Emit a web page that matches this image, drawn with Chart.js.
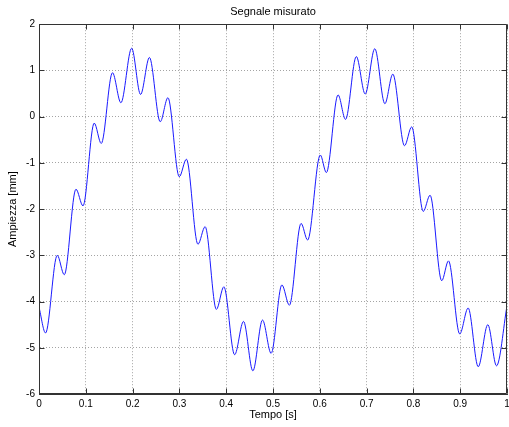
<!DOCTYPE html>
<html>
<head>
<meta charset="utf-8">
<title>Segnale misurato</title>
<script src="https://cdn.jsdelivr.net/npm/chart.js@4.4.1/dist/chart.umd.min.js"></script>
<style>
  html, body { margin: 0; padding: 0; background: #fff; }
  canvas { display: block; }
</style>
</head>
<body>
<canvas id="chart" width="509" height="427"></canvas>
<script>
// Punti (massimi e minimi locali del segnale)
const tempo = [
  0.000, 0.014, 0.039, 0.054, 0.079, 0.094, 0.118, 0.133, 0.157, 0.175,
  0.198, 0.217, 0.236, 0.259, 0.2755, 0.2997, 0.315, 0.3396, 0.355, 0.379,
  0.395, 0.418, 0.437, 0.457, 0.4776, 0.496, 0.519, 0.535, 0.560, 0.574,
  0.601, 0.614, 0.639, 0.655, 0.678, 0.697, 0.7175, 0.739, 0.756, 0.781,
  0.7964, 0.821, 0.8356, 0.8605, 0.875, 0.899, 0.917, 0.9385, 0.959, 0.9776,
  1.000
];
const ampiezza = [
  -4.12, -4.68, -3.00, -3.42, -1.57, -1.93, -0.14, -0.58, 0.95, 0.30,
  1.48, 0.48, 1.28, -0.11, 0.41, -1.30, -0.92, -2.76, -2.38, -4.17,
  -3.68, -5.15, -4.43, -5.50, -4.40, -5.12, -3.64, -4.08, -2.31, -2.67,
  -0.83, -1.21, 0.47, -0.06, 1.30, 0.49, 1.47, 0.28, 0.92, -0.63,
  -0.22, -2.05, -1.70, -3.55, -3.12, -4.70, -4.14, -5.41, -4.50, -5.39,
  -4.09
];

const xTicks = [0, 0.1, 0.2, 0.3, 0.4, 0.5, 0.6, 0.7, 0.8, 0.9, 1];
const xTickLabels = ['0', '0.1', '0.2', '0.3', '0.4', '0.5', '0.6', '0.7', '0.8', '0.9', '1'];
const yTicks = [-6, -5, -4, -3, -2, -1, 0, 1, 2];
const yTickLabels = ['-6', '-5', '-4', '-3', '-2', '-1', '0', '1', '2'];

const FONT = "'Liberation Sans', Arial, Helvetica, sans-serif";
const AXIS_COLOR = '#333';

// cornice e tacche interne stile MATLAB
const boxPlugin = {
  id: 'box',
  afterDraw(chart) {
    const { ctx, chartArea: a, scales } = chart;
    const l = Math.round(a.left) + 0.5, r = Math.round(a.right) - 0.5;
    const t = Math.round(a.top) + 0.5, b = Math.round(a.bottom) - 0.5;
    ctx.save();
    ctx.strokeStyle = AXIS_COLOR;
    ctx.lineWidth = 1;
    ctx.setLineDash([]);
    ctx.beginPath();
    ctx.rect(l, t, r - l, b - t);
    scales.x.ticks.forEach(tk => {
      const px = Math.round(scales.x.getPixelForValue(tk.value)) + 0.5;
      ctx.moveTo(px, b); ctx.lineTo(px, b - 5);
      ctx.moveTo(px, t); ctx.lineTo(px, t + 5);
    });
    scales.y.ticks.forEach(tk => {
      const py = Math.round(scales.y.getPixelForValue(tk.value)) + 0.5;
      ctx.moveTo(l, py); ctx.lineTo(l + 5, py);
      ctx.moveTo(r, py); ctx.lineTo(r - 5, py);
    });
    ctx.stroke();
    ctx.restore();
  }
};

const ctx = document.getElementById('chart').getContext('2d');
new Chart(ctx, {
  type: 'line',
  data: {
    datasets: [{
      data: tempo.map((t, i) => ({ x: t, y: ampiezza[i] })),
      borderColor: '#1a1aff',
      borderWidth: 1,
      pointRadius: 0,
      fill: false,
      cubicInterpolationMode: 'monotone'
    }]
  },
  options: {
    responsive: false,
    animation: false,
    devicePixelRatio: 1,
    layout: { padding: { left: 0, right: 2, top: 0, bottom: 0 } },
    plugins: {
      legend: { display: false },
      tooltip: { enabled: false },
      title: {
        display: true,
        text: 'Segnale misurato',
        fullSize: false,
        color: '#000',
        font: { family: FONT, size: 11, weight: 'normal', lineHeight: 1.2 },
        padding: { top: 5, bottom: 6 }
      }
    },
    scales: {
      x: {
        type: 'linear',
        min: 0,
        max: 1,
        afterBuildTicks: s => { s.ticks = xTicks.map(v => ({ value: v })); },
        afterFit: s => { s.height = 33; s.paddingLeft = 0; s.paddingRight = 0; },
        ticks: {
          callback: (v, i) => xTickLabels[i],
          color: '#000',
          font: { family: FONT, size: 10 },
          padding: 4,
          maxRotation: 0
        },
        grid: { color: 'rgba(90,90,90,0.55)', drawTicks: false, lineWidth: 1 },
        border: { display: true, color: AXIS_COLOR, width: 1, dash: [1, 2] },
        title: {
          display: true,
          text: 'Tempo [s]',
          color: '#000',
          font: { family: FONT, size: 11, lineHeight: 1.2 },
          padding: { top: 0, bottom: 5 }
        }
      },
      y: {
        type: 'linear',
        min: -6,
        max: 2,
        afterBuildTicks: s => { s.ticks = yTicks.map(v => ({ value: v })); },
        afterFit: s => { s.width = 39; },
        ticks: {
          callback: (v, i) => yTickLabels[i],
          color: '#000',
          font: { family: FONT, size: 10 },
          padding: 4
        },
        grid: { color: 'rgba(90,90,90,0.55)', drawTicks: false, lineWidth: 1 },
        border: { display: true, color: AXIS_COLOR, width: 1, dash: [1, 2] },
        title: {
          display: true,
          text: 'Ampiezza [mm]',
          color: '#000',
          font: { family: FONT, size: 11, lineHeight: 1.2 },
          padding: { top: 6, bottom: 0 }
        }
      }
    }
  },
  plugins: [boxPlugin]
});
</script>
</body>
</html>
